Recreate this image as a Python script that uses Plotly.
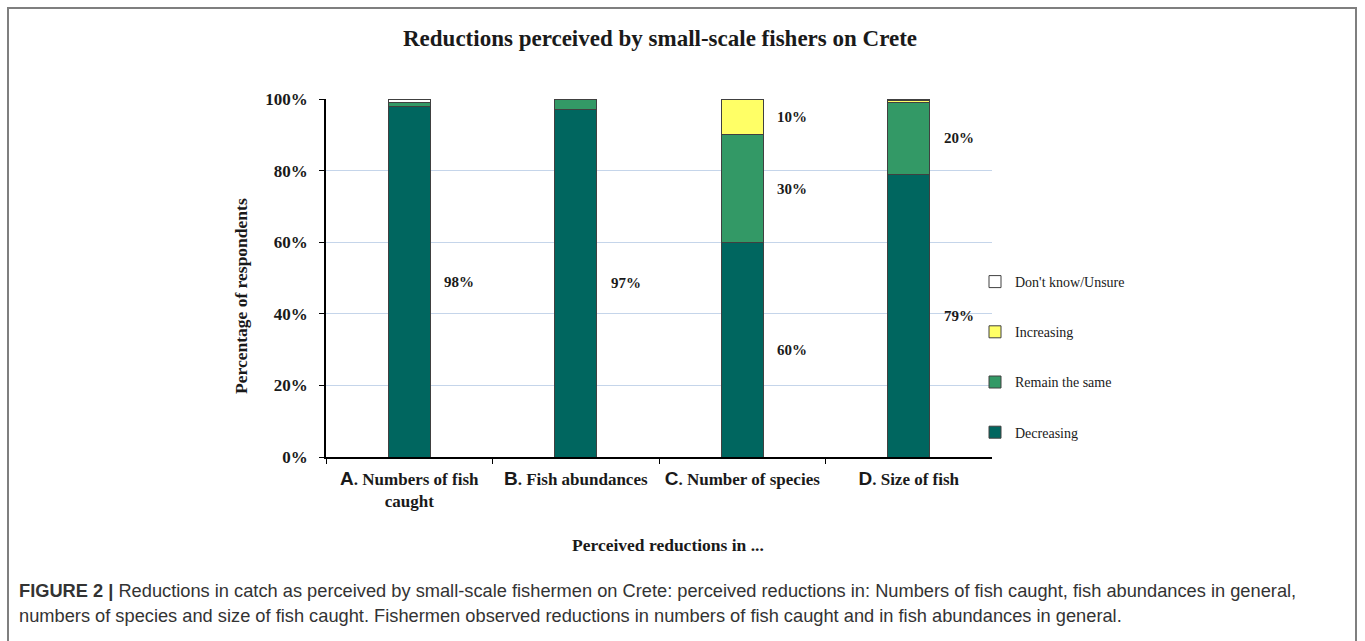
import plotly.graph_objects as go

# Survey responses (percentage of respondents) per perceived-reduction topic
categories = ["A", "B", "C", "D"]
category_names = ["Numbers of fish<br>caught", "Fish abundances", "Number of species", "Size of fish"]
decreasing = [98, 97, 60, 79]
remain_same = [1, 3, 30, 20]
increasing = [0, 0, 10, 0.5]
dont_know = [1, 0, 0, 0.5]
y_ticks = [0, 20, 40, 60, 80, 100]

series_names = ["Decreasing", "Remain the same", "Increasing", "Don't know/Unsure"]
series_values = [decreasing, remain_same, increasing, dont_know]
series_colors = ["#00665f", "#339966", "#ffff66", "#ffffff"]

# Which segments get a value label, and the label text
labelled = {
    "Decreasing": ["98%", "97%", "60%", "79%"],
    "Remain the same": [None, None, "30%", "20%"],
    "Increasing": [None, None, "10%", None],
}

W, H = 1365, 641
SERIF = "Liberation Serif"
SANS = "Liberation Sans"
INK = "#1a1a1a"

fig = go.Figure()
n_series = len(series_names)
for k, (name, vals, col) in enumerate(zip(series_names, series_values, series_colors)):
    fig.add_trace(go.Bar(
        x=categories, y=vals, name=name, legendgroup=name,
        legendrank=n_series - k,
        marker=dict(color=col, line=dict(color="#404040", width=1)),
        hoverinfo="skip",
    ))

# Value labels to the right of each bar, at the middle of their segment
annotations = []
base = [0.0] * len(categories)
for name, vals in zip(series_names, series_values):
    for i, v in enumerate(vals):
        texts = labelled.get(name)
        if texts and texts[i]:
            annotations.append(dict(
                x=categories[i], y=base[i] + v / 2, xref="x", yref="y",
                text=texts[i], showarrow=False, xshift=50,
                font=dict(family=SERIF, size=15, color=INK, weight="bold"),
            ))
        base[i] += v

# Axis titles
annotations.append(dict(
    x=241 / W, y=1 - 296 / H, xref="paper", yref="paper", textangle=-90,
    xanchor="center", yanchor="middle",
    text="<b>Percentage of respondents</b>", showarrow=False,
    font=dict(family=SERIF, size=17.5, color=INK),
))
annotations.append(dict(
    x=668 / W, y=1 - 545 / H, xref="paper", yref="paper",
    xanchor="center", yanchor="middle",
    text="<b>Perceived reductions in ...</b>", showarrow=False,
    font=dict(family=SERIF, size=17.5, color=INK),
))

# Figure caption
caption_lines = [
    "<b>FIGURE 2 |</b> Reductions in catch as perceived by small-scale fishermen on Crete: "
    "perceived reductions in: Numbers of fish caught, fish abundances in general,",
    "numbers of species and size of fish caught. Fishermen observed reductions in numbers "
    "of fish caught and in fish abundances in general.",
]
for line, ypix in zip(caption_lines, [590, 615]):
    annotations.append(dict(
        x=17 / W, y=1 - ypix / H, xref="paper", yref="paper", xanchor="left", yanchor="middle",
        align="left", showarrow=False, text=line,
        font=dict(family=SANS, size=18.25, color="#333333"),
    ))

tick_text = [
    f'<span style="font-family:{SANS};font-size:19px">{c}</span>. {n}'
    for c, n in zip(categories, category_names)
]

fig.update_layout(
    width=W, height=H,
    margin=dict(l=0, r=0, t=0, b=0),
    paper_bgcolor="white", plot_bgcolor="white",
    barmode="stack", bargap=0.75,
    title=dict(
        text="<b>Reductions perceived by small-scale fishers on Crete</b>",
        x=660 / W, xanchor="center", y=1 - 38 / H, yanchor="middle",
        font=dict(family=SERIF, size=23, color=INK),
    ),
    xaxis=dict(
        domain=[326 / W, 992 / W], automargin=False,
        tickmode="array", tickvals=categories, ticktext=tick_text,
        tickson="boundaries", ticks="outside", ticklen=5, tickcolor="black",
        ticklabelstandoff=6,
        showline=True, linecolor="black", linewidth=1.5,
        tickfont=dict(family=SERIF, size=17, color=INK, weight="bold"),
        showgrid=False,
    ),
    yaxis=dict(
        domain=[1 - 457 / H, 1 - 99 / H], automargin=False,
        range=[0, 100], tickmode="array", tickvals=y_ticks,
        ticktext=[f"{t}%" for t in y_ticks],
        ticks="outside", ticklen=5, tickcolor="black", ticklabelstandoff=8,
        showline=True, linecolor="black", linewidth=1.5,
        gridcolor="#c5d5ea", gridwidth=1,
        tickfont=dict(family=SERIF, size=17, color=INK, weight="bold"),
        zeroline=False,
    ),
    legend=dict(
        x=975 / W, xanchor="left", y=1 - 266 / H, yanchor="top",
        traceorder="grouped", tracegroupgap=29,
        font=dict(family=SERIF, size=14, color=INK),
        bgcolor="rgba(0,0,0,0)",
    ),
    annotations=annotations,
    shapes=[dict(
        type="rect", xref="paper", yref="paper",
        x0=8 / W, x1=1356 / W, y0=-0.2, y1=1 - 8 / H,
        line=dict(color="#7f7f7f", width=2), fillcolor="rgba(0,0,0,0)",
    )],
)

fig.write_html("out.html")
